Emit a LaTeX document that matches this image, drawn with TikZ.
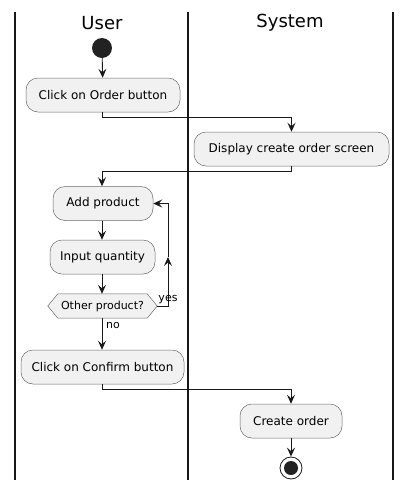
\documentclass[tikz,border=0pt]{standalone}
\usepackage{fontspec}
\setmainfont{DejaVu Sans}
\usetikzlibrary{arrows.meta,backgrounds}
\definecolor{boxfill}{HTML}{F1F1F1}
\definecolor{ink}{HTML}{181818}
\definecolor{dot}{HTML}{222222}
\begin{document}
\begin{tikzpicture}[x=1pt,y=-1pt,
  act/.style={draw=ink!65, line width=0.5pt, fill=boxfill, rounded corners=12pt,
    minimum height=34pt, inner sep=0pt, font=\fontsize{12}{14}\selectfont},
  lane/.style={line width=1.3pt, ink},
  conn/.style={line width=0.9pt, ink},
  arr/.style={conn, -{Stealth[length=9pt,width=8pt,inset=3.5pt]}},
  title/.style={font=\fontsize{18}{21}\selectfont},
  lbl/.style={font=\fontsize{11}{13}\selectfont, inner sep=0pt}]
\useasboundingbox (0,0) rectangle (412,491);
% swimlanes
\coordinate (l1t) at (15,12);   \coordinate (l1b) at (15,480);
\coordinate (l2t) at (188,12);  \coordinate (l2b) at (188,480);
\coordinate (l3t) at (393,12);  \coordinate (l3b) at (393,480);
\draw[lane] (l1t) -- (l1b);
\draw[lane] (l2t) -- (l2b);
\draw[lane] (l3t) -- (l3b);
\node[title] (tu) at (102,23) {User};
\node[title] (ts) at (290,23) {System};
% nodes
\node[circle, fill=dot, minimum size=20pt, inner sep=0pt] (start) at (102,48) {};
\node[act, minimum width=154pt] (b1) at (103,95) {Click on Order button};
\node[act, minimum width=195pt] (b2) at (291.5,149) {Display create order screen};
\node[act, minimum width=100pt] (b3) at (103,203.5) {Add product};
\node[act, minimum width=105pt] (b4) at (102.5,257) {Input quantity};
\node[minimum width=109pt, minimum height=24pt, inner sep=0pt,
      font=\fontsize{11}{13}\selectfont] (d) at (102.5,306) {Other product?};
\begin{scope}[on background layer]
\draw[draw=ink!65, line width=0.5pt, fill=boxfill]
  (d.west) -- ([xshift=10pt]d.north west) -- ([xshift=-10pt]d.north east)
  -- (d.east) -- ([xshift=-10pt]d.south east) -- ([xshift=10pt]d.south west) -- cycle;
\end{scope}
\node[act, minimum width=163pt] (b5) at (102.5,367) {Click on Confirm button};
\node[act, minimum width=102pt] (b6) at (291,421) {Create order};
\node[circle, draw=ink, line width=0.8pt, fill=white, minimum size=22pt, inner sep=0pt] (end) at (291,468) {};
\node[circle, fill=dot, minimum size=14pt, inner sep=0pt] (endin) at (291,468) {};
% connectors
\draw[arr] (start) -- (b1);
\coordinate (k1) at (102,117);
\draw[arr] (b1.south -| k1) -- (k1) -| (b2.north);
\coordinate (k2) at (291,171);
\draw[arr] (b2.south -| k2) -- (k2) -| (b3.north -| k1);
\draw[arr] (b3.south -| k1) -- (b4.north -| k1);
\draw[arr] (b4.south -| k1) -- (d.north -| k1);
\coordinate (ly) at (168,306);
\coordinate (lt) at (168,257);
\draw[arr] (d.east) -- (ly) -- (lt);
\draw[arr] (lt) |- (b3.east);
\node[lbl] (yes) at (168,300) {yes};
\draw[arr] (d.south -| k1) -- (b5.north -| k1);
\node[lbl, anchor=west] (no) at (106,325) {no};
\coordinate (k3) at (102,389);
\draw[arr] (b5.south -| k3) -- (k3) -| (b6.north);
\draw[arr] (b6.south) -- (end.north);
\end{tikzpicture}
\end{document}
